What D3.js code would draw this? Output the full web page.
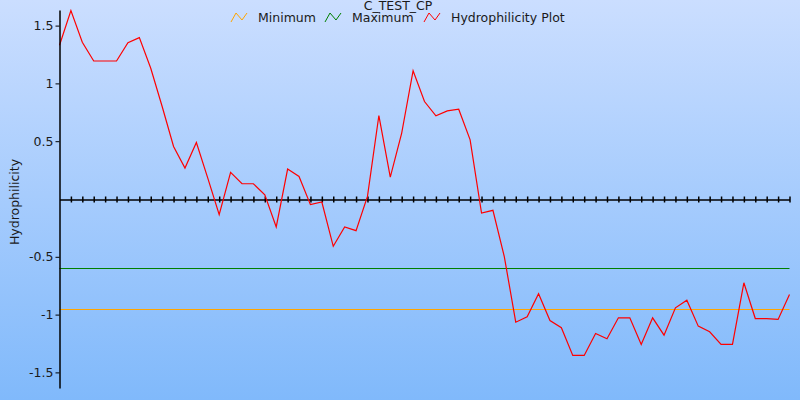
<!DOCTYPE html>
<html>
<head>
<meta charset="utf-8">
<script src="https://cdn.jsdelivr.net/npm/d3@7"></script>
<style>
  html, body { margin: 0; padding: 0; background: #fff; }
  svg { display: block; }
  text { font-family: "DejaVu Sans", Verdana, sans-serif; font-size: 12.5px; fill: #1a1a1a; }
</style>
</head>
<body>
<svg id="chart" width="800" height="400"></svg>
<script>
const title = "C_TEST_CP";
const yLabel = "Hydrophilicity";
const seriesNames = ["Minimum", "Maximum", "Hydrophilicity Plot"];
const seriesColors = ["#FFA500", "#008000", "#FF0000"];
const minimumValue = -0.95;
const maximumValue = -0.6;
const positions = d3.range(0, 65);
const hydrophilicity = [
  1.33, 1.63, 1.356, 1.194, 1.194, 1.194, 1.352, 1.396, 1.131, 0.80,
  0.454, 0.268, 0.489, 0.181, -0.136, 0.23, 0.132, 0.132, 0.037, -0.242,
  0.259, 0.195, -0.049, -0.026, -0.409, -0.242, -0.274, 0.022, 0.722, 0.19,
  0.57, 1.11, 0.843, 0.719, 0.762, 0.777, 0.512, -0.121, -0.098, -0.5,
  -1.066, -1.019, -0.82, -1.051, -1.114, -1.353, -1.353, -1.163, -1.209, -1.028,
  -1.028, -1.258, -1.028, -1.178, -0.941, -0.875, -1.1, -1.149, -1.258, -1.258,
  -0.725, -1.034, -1.034, -1.042, -0.826
];
const yTicks = [-1.5, -1, -0.5, 0.5, 1, 1.5];
const xTicks = d3.range(1, 65);
const yDomain = [-1.635, 1.635];

const svg = d3.select("#chart");
const W = 800, H = 400;

// background gradient
const defs = svg.append("defs");
const grad = defs.append("linearGradient").attr("id", "bg")
  .attr("x1", 0).attr("y1", 0).attr("x2", 0).attr("y2", 1);
grad.append("stop").attr("offset", "0%").attr("stop-color", "#CBDEFF");
grad.append("stop").attr("offset", "100%").attr("stop-color", "#80B9FB");
svg.append("rect").attr("width", W).attr("height", H).attr("fill", "url(#bg)");

const x = d3.scaleLinear().domain([0, 64]).range([59.5, 789.5]);
const y = d3.scaleLinear().domain(yDomain).range([388, 10]);

// Reference lines
svg.append("line")
  .attr("x1", x(0)).attr("x2", x(64))
  .attr("y1", Math.round(y(minimumValue)) + 0.5).attr("y2", Math.round(y(minimumValue)) + 0.5)
  .attr("stroke", seriesColors[0]).attr("stroke-width", 1);
svg.append("line")
  .attr("x1", x(0)).attr("x2", x(64))
  .attr("y1", Math.round(y(maximumValue)) + 0.5).attr("y2", Math.round(y(maximumValue)) + 0.5)
  .attr("stroke", seriesColors[1]).attr("stroke-width", 1);

// x axis at zero
const zeroY = Math.round(y(0)) + 0.5;
const xAxis = svg.append("g").attr("transform", `translate(0,${zeroY})`)
  .call(d3.axisBottom(x).tickValues(xTicks).tickSize(3).tickSizeOuter(0).tickFormat(""));
xAxis.select(".domain").attr("stroke", "#000").attr("stroke-width", 1.5);
xAxis.selectAll(".tick line").attr("y1", -3).attr("y2", 3).attr("stroke", "#000").attr("stroke-width", 1.5);

// red line
const line = d3.line().x((d, i) => x(positions[i])).y(d => y(d));
svg.append("path").datum(hydrophilicity)
  .attr("d", line).attr("fill", "none")
  .attr("stroke", seriesColors[2]).attr("stroke-width", 1.2);

// y axis
const yAxis = svg.append("g").attr("transform", `translate(59.5,0)`)
  .call(d3.axisLeft(y).tickValues(yTicks).tickSize(4).tickSizeOuter(0).tickPadding(2)
    .tickFormat(d => String(d)));
yAxis.select(".domain").attr("stroke", "#000").attr("stroke-width", 1.5);
yAxis.selectAll(".tick line").attr("stroke", "#000");
yAxis.selectAll(".tick text")
  .style("font-family", '"DejaVu Sans", Verdana, sans-serif')
  .style("font-size", "12.5px").attr("fill", "#1a1a1a");

// y label
svg.append("text")
  .attr("transform", `translate(19,202) rotate(-90)`)
  .attr("text-anchor", "middle")
  .text(yLabel);

// title
svg.append("text").attr("x", 398).attr("y", 10).attr("text-anchor", "middle").text(title);

// legend
const legendX = [231, 325, 424];
const legend = svg.append("g");
seriesNames.forEach((name, i) => {
  const lx = legendX[i];
  const zig = [[0, 22], [5, 13], [11, 20], [16, 13]];
  legend.append("path")
    .attr("d", d3.line()(zig.map(p => [lx + p[0], p[1]])))
    .attr("fill", "none").attr("stroke", seriesColors[i]).attr("stroke-width", 1);
  legend.append("text").attr("x", lx + 27).attr("y", 22).text(name);
});
</script>
</body>
</html>
